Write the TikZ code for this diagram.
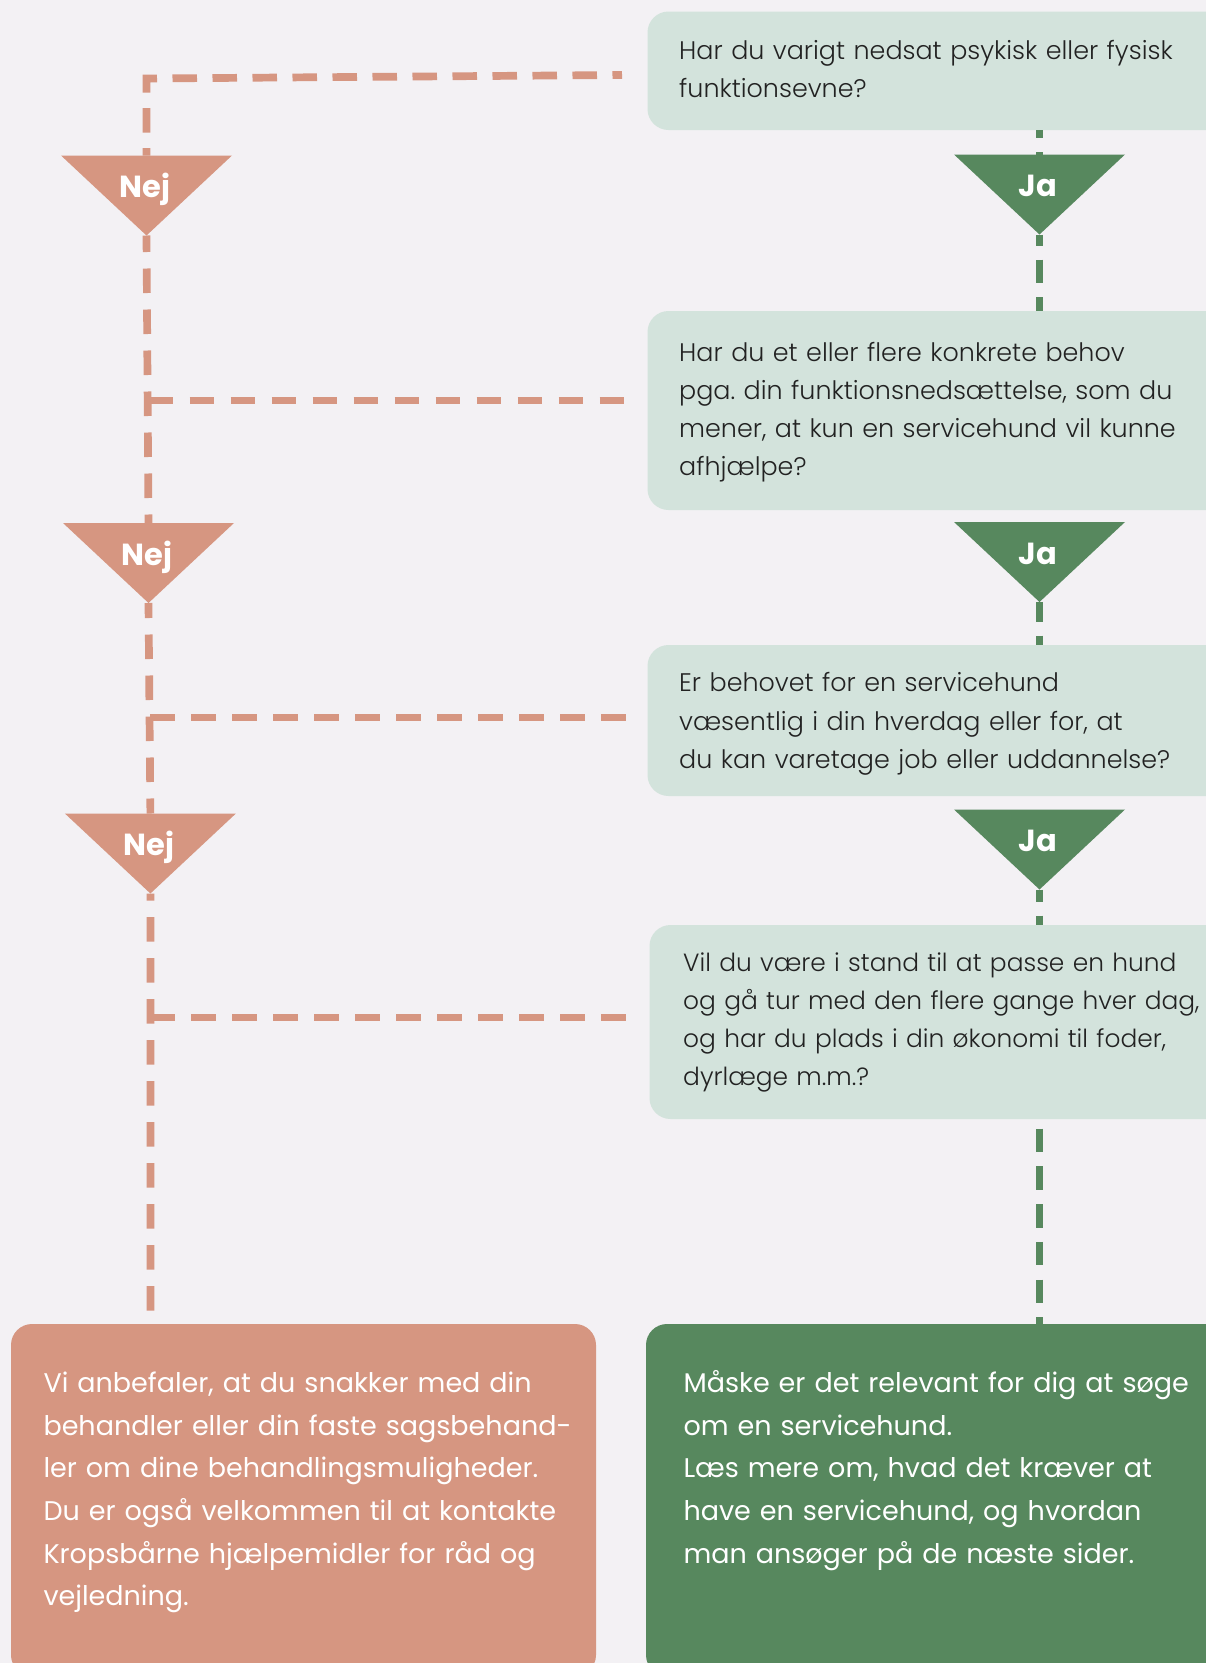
\documentclass[tikz,border=0pt]{standalone}
\usepackage{fontspec}
\IfFontExistsTF{Poppins Light}{\newfontfamily\qfont{Poppins Light}}{\newfontfamily\qfont{Poppins}}
\newfontfamily\bfont{Poppins}
\definecolor{bgc}{HTML}{F3F1F4}
\definecolor{qfill}{HTML}{D3E3DC}
\definecolor{nejc}{HTML}{D69681}
\definecolor{jac}{HTML}{57885E}
\definecolor{qtc}{HTML}{222222}
\begin{document}
\frenchspacing
\begin{tikzpicture}[x=1pt,y=-1pt,
  box/.style={anchor=north west, inner sep=0pt, outer sep=0pt, rounded corners=21pt, draw=none},
  qbox/.style={box, fill=qfill},
  qtext/.style={anchor=base west, inner sep=0pt, text width=540pt, align=left, text=qtc,
     font=\qfont\fontsize{25.4}{38.3}\selectfont},
  rtext/.style={anchor=base west, inner sep=0pt, text width=545pt, align=left, text=white,
     font=\bfont\fontsize{27}{42.6}\selectfont},
  lbl/.style={anchor=base, inner sep=0pt, text=white, font=\bfont\bfseries\fontsize{30.5}{30.5}\selectfont},
  nejline/.style={draw=nejc, line width=7.7pt, dash pattern=on 24.5pt off 16.5pt},
  jaline/.style={draw=jac, line width=7.7pt, dash pattern=on 23.5pt off 14.2pt}]
\useasboundingbox (0,0) rectangle (1206,1663);
\fill[bgc] (0,0) rectangle (1206,1663);

% boxes
\node[qbox, minimum width=600pt, minimum height=118.5pt] (q1) at (647.5,11.5) {};
\node[qbox, minimum width=600pt, minimum height=199pt] (q2) at (647.5,311) {};
\node[qbox, minimum width=600pt, minimum height=151pt] (q3) at (647.5,645) {};
\node[qbox, minimum width=600pt, minimum height=194pt] (q4) at (649.5,925) {};
\node[box, fill=nejc, minimum width=585pt, minimum height=352pt] (r1) at (11,1324) {};
\node[box, fill=jac, minimum width=600pt, minimum height=352pt] (g1) at (646,1324) {};

% funnel coordinates
\coordinate (n1top) at (146.5,155.5);  \coordinate (n1tip) at (146.5,235.5);
\coordinate (n2top) at (148.5,523);    \coordinate (n2tip) at (148.5,603);
\coordinate (n3top) at (150.4,813.5);  \coordinate (n3tip) at (150.4,893.5);
\coordinate (j1top) at (1039.5,154.5); \coordinate (j1tip) at (1039.5,234.5);
\coordinate (j2top) at (1039.5,522);   \coordinate (j2tip) at (1039.5,602);
\coordinate (j3top) at (1039.5,809.5); \coordinate (j3tip) at (1039.5,889.5);

% "Nej" connectors
\coordinate (c1) at (622,75);
\coordinate (k1) at (146.5,78.5);
\coordinate (h2) at (631,400.5);
\coordinate (h3) at (631,717.5);
\coordinate (h4) at (631,1017.5);
\coordinate (nend) at (150.5,1311);
\draw[nejline, dash pattern=on 24.5pt off 15.5pt, dash phase=17pt] (n1top) -- (k1) -- (c1);
\draw[nejline, dash phase=8pt] (n1tip) -- (n2top);
\draw[nejline, dash phase=9.5pt] (n2tip) -- (n3top);
\draw[nejline, dash phase=17.5pt] (n3tip) -- (nend);
\draw[nejline] (h2 -| n2top) -- (h2);
\draw[nejline] (h3 -| n3top) -- (h3);
\draw[nejline] (h4 -| n3tip) -- (h4);

% "Ja" connectors
\draw[jaline, dash phase=15.5pt] (q1.south -| j1top) -- (j1top);
\draw[jaline, dash phase=12.5pt] (j1tip) -- (q2.north -| j1tip);
\draw[jaline, dash phase=4pt] (j2tip) -- (q3.north -| j2tip);
\draw[jaline, dash phase=11.5pt] (j3tip) -- (q4.north -| j3tip);
\draw[jaline, dash phase=28pt] (q4.south -| j3tip) -- (g1.north -| j3tip);

% funnels
\fill[nejc] (n1top) ++(-85.5,0) -- ++(171,0) -- (n1tip) -- cycle;
\fill[nejc] (n2top) ++(-85.5,0) -- ++(171,0) -- (n2tip) -- cycle;
\fill[nejc] (n3top) ++(-85.5,0) -- ++(171,0) -- (n3tip) -- cycle;
\fill[jac] (j1top) ++(-85.5,0) -- ++(171,0) -- (j1tip) -- cycle;
\fill[jac] (j2top) ++(-85.5,0) -- ++(171,0) -- (j2tip) -- cycle;
\fill[jac] (j3top) ++(-85.5,0) -- ++(171,0) -- (j3tip) -- cycle;
\node[lbl] (n1) at (145,197.5) {Nej};
\node[lbl] (n2) at (147,565) {Nej};
\node[lbl] (n3) at (149,855.5) {Nej};
\node[lbl] (j1) at (1038,196.5) {Ja};
\node[lbl] (j2) at (1038,564) {Ja};
\node[lbl] (j3) at (1038,851.5) {Ja};

% texts
\node[qtext] (q1t) at (679,59.3) {Har du varigt nedsat psykisk eller fysisk\\funktionsevne?};
\node[qtext] (q2t) at (679,361) {Har du et eller flere konkrete behov\\pga. din funktionsnedsættelse, som du\\mener, at kun en servicehund vil kunne\\afhjælpe?};
\node[qtext] (q3t) at (679,691.7) {Er behovet for en servicehund\\væsentlig i din hverdag eller for, at\\du kan varetage job eller uddannelse?};
\node[qtext, font=\qfont\fontsize{24.9}{38.3}\selectfont] (q4t) at (683,971) {Vil du være i stand til at passe en hund\\og gå tur med den flere gange hver dag,\\og har du plads i din økonomi til foder,\\dyrlæge m.m.?};
\node[rtext] (r1t) at (43.3,1392.7) {Vi anbefaler, at du snakker med din\\behandler eller din faste sagsbehand-\\ler om dine behandlingsmuligheder.\\Du er også velkommen til at kontakte\\Kropsbårne hjælpemidler for råd og\\vejledning.};
\node[rtext] (g1t) at (683.3,1392.7) {Måske er det relevant for dig at søge\\om en servicehund.\\Læs mere om, hvad det kræver at\\have en servicehund, og hvordan\\man ansøger på de næste sider.};
\end{tikzpicture}
\end{document}
